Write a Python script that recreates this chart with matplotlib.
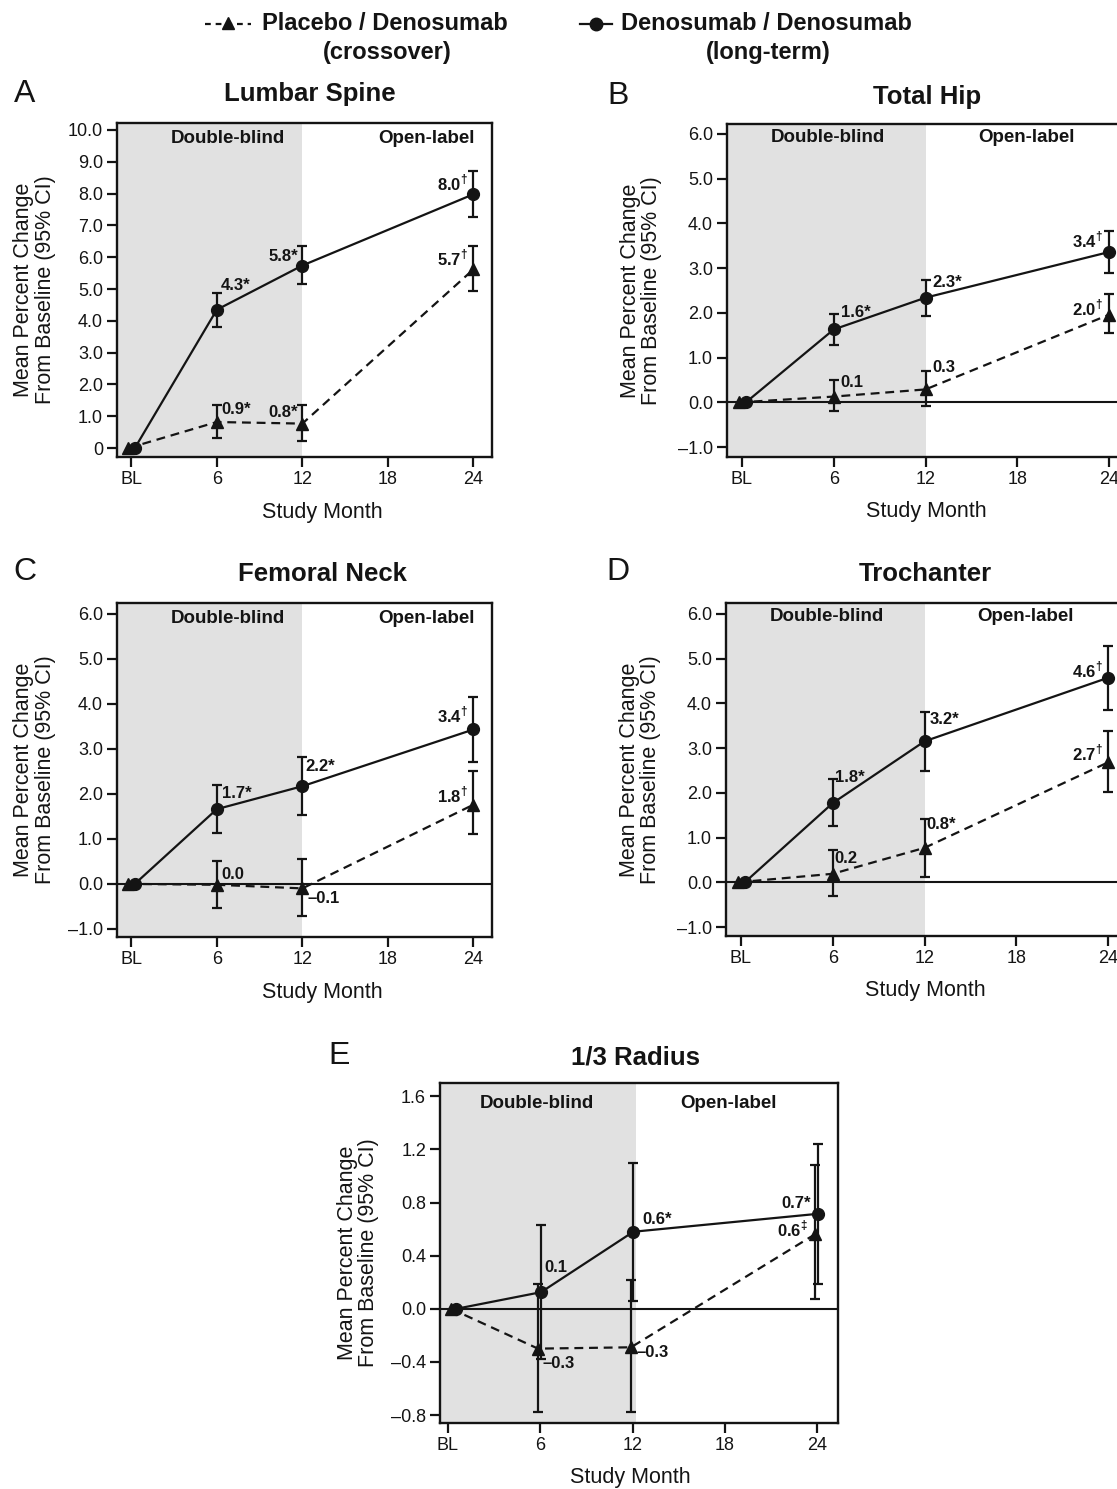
import numpy as np
import matplotlib
matplotlib.use("Agg")
import matplotlib.pyplot as plt
from matplotlib.lines import Line2D

plt.rcParams["font.family"] = ["Liberation Sans", "DejaVu Sans"]
plt.rcParams["mathtext.fontset"] = "custom"
plt.rcParams["mathtext.rm"] = "Liberation Sans:bold"
plt.rcParams["mathtext.bf"] = "Liberation Sans:bold"

# study months (BL = 0)
months = np.array([0, 6, 12, 24])
xtick_vals = [0, 6, 12, 18, 24]
xtick_labels = ["BL", "6", "12", "18", "24"]

# mean % change and 95% CI, placebo/denosumab (crossover)
spine_pl = np.array([0, 0.82, 0.77, 5.62])
spine_pl_lo = np.array([0, 0.32, 0.23, 4.93])
spine_pl_hi = np.array([0, 1.37, 1.37, 6.34])
# denosumab/denosumab (long-term)
spine_dm = np.array([0, 4.35, 5.74, 7.98])
spine_dm_lo = np.array([0, 3.81, 5.16, 7.25])
spine_dm_hi = np.array([0, 4.87, 6.34, 8.71])

hip_pl = np.array([0, 0.13, 0.29, 1.96])
hip_pl_lo = np.array([0, -0.19, -0.08, 1.56])
hip_pl_hi = np.array([0, 0.50, 0.71, 2.43])
hip_dm = np.array([0, 1.63, 2.34, 3.36])
hip_dm_lo = np.array([0, 1.28, 1.94, 2.90])
hip_dm_hi = np.array([0, 1.98, 2.74, 3.82])

neck_pl = np.array([0, -0.02, -0.10, 1.76])
neck_pl_lo = np.array([0, -0.54, -0.71, 1.10])
neck_pl_hi = np.array([0, 0.50, 0.55, 2.50])
neck_dm = np.array([0, 1.66, 2.17, 3.43])
neck_dm_lo = np.array([0, 1.13, 1.52, 2.70])
neck_dm_hi = np.array([0, 2.20, 2.81, 4.15])

troch_pl = np.array([0, 0.19, 0.77, 2.68])
troch_pl_lo = np.array([0, -0.30, 0.12, 2.02])
troch_pl_hi = np.array([0, 0.72, 1.42, 3.38])
troch_dm = np.array([0, 1.77, 3.15, 4.57])
troch_dm_lo = np.array([0, 1.25, 2.48, 3.86])
troch_dm_hi = np.array([0, 2.30, 3.81, 5.29])

radius_pl = np.array([0, -0.30, -0.29, 0.56])
radius_pl_lo = np.array([0, -0.78, -0.78, 0.075])
radius_pl_hi = np.array([0, 0.19, 0.22, 1.08])
radius_dm = np.array([0, 0.125, 0.58, 0.715])
radius_dm_lo = np.array([0, -0.38, 0.06, 0.19])
radius_dm_hi = np.array([0, 0.63, 1.10, 1.24])

# value labels at months 6, 12, 24
spine_pl_txt = ["0.9*", "0.8*", "5.7†"]
spine_dm_txt = ["4.3*", "5.8*", "8.0†"]
hip_pl_txt = ["0.1", "0.3", "2.0†"]
hip_dm_txt = ["1.6*", "2.3*", "3.4†"]
neck_pl_txt = ["0.0", "–0.1", "1.8†"]
neck_dm_txt = ["1.7*", "2.2*", "3.4†"]
troch_pl_txt = ["0.2", "0.8*", "2.7†"]
troch_dm_txt = ["1.8*", "3.2*", "4.6†"]
radius_pl_txt = ["–0.3", "–0.3", "0.6‡"]
radius_dm_txt = ["0.1", "0.6*", "0.7*"]

W, H = 1117, 1489
INK = "#141414"
SHADE = "#e1e1e1"

fig = plt.figure(figsize=(W / 100, H / 100), dpi=100)


def px_axes(l, t, r, b):
    return fig.add_axes([l / W, 1 - b / H, (r - l) / W, (b - t) / H])


def fmt_label(s):
    s = s.replace("†", r"$^{\dagger}$").replace("‡", r"$^{\ddagger}$")
    return s


def panel(ax, pl, pl_lo, pl_hi, dm, dm_lo, dm_hi, pl_txt, dm_txt, lay):
    ax.axvspan(-5, lay["shade_to"], color=SHADE, lw=0, zorder=0)
    if lay["zero_line"]:
        ax.axhline(0, color=INK, lw=1.5, zorder=1)

    xp = months + np.array(lay["jit_pl"])
    xd = months + np.array(lay["jit_dm"])
    ebkw = dict(fmt="none", ecolor=INK, elinewidth=1.6, capsize=3.8, capthick=1.6, zorder=3)
    ax.errorbar(xp[1:], pl[1:], yerr=[pl[1:] - pl_lo[1:], pl_hi[1:] - pl[1:]], **ebkw)
    ax.errorbar(xd[1:], dm[1:], yerr=[dm[1:] - dm_lo[1:], dm_hi[1:] - dm[1:]], **ebkw)
    ax.plot(xp, pl, color=INK, lw=1.6, dashes=(4, 2.6), marker="^", ms=8, zorder=4)
    ax.plot(xd, dm, color=INK, lw=1.6, marker="o", ms=8.5, zorder=4)

    for i in range(3):
        dx, dy, ha = lay["off_pl"][i]
        ax.annotate(fmt_label(pl_txt[i]), (xp[i + 1], pl[i + 1]), xytext=(dx, dy),
                    textcoords="offset pixels", ha=ha, va="center",
                    fontsize=12, fontweight="bold", color=INK, zorder=5)
        dx, dy, ha = lay["off_dm"][i]
        ax.annotate(fmt_label(dm_txt[i]), (xd[i + 1], dm[i + 1]), xytext=(dx, dy),
                    textcoords="offset pixels", ha=ha, va="center",
                    fontsize=12, fontweight="bold", color=INK, zorder=5)

    ax.set_xlim(lay["xlim"])
    ax.set_ylim(lay["ylim"])
    ax.set_xticks(xtick_vals)
    ax.set_xticklabels(xtick_labels)
    yt = lay["yticks"]
    ax.set_yticks(yt)
    ylab = [f"{v:.1f}".replace("-", "–") for v in yt]
    if lay.get("zero_as_int"):
        ylab = ["0" if abs(v) < 1e-9 else s for v, s in zip(yt, ylab)]
    ax.set_yticklabels(ylab)
    ax.tick_params(direction="out", length=7, width=1.6, labelsize=13, colors=INK, pad=3)
    for sp in ax.spines.values():
        sp.set_linewidth(1.7)
        sp.set_color(INK)

    ax.text(lay["db_x"], lay["lbl_y"], "Double-blind", transform=ax.transAxes,
            ha="center", va="center", fontsize=13.5, fontweight="bold", color=INK)
    ax.text(lay["ol_x"], lay["lbl_y"], "Open-label", transform=ax.transAxes,
            ha="center", va="center", fontsize=13.5, fontweight="bold", color=INK)

    ax.set_ylabel("Mean Percent Change\nFrom Baseline (95% CI)", fontsize=15.5,
                  color=INK, va="center", linespacing=1.05)
    ax.yaxis.set_label_coords(lay["ylab_x"], 0.5)
    ax.set_xlabel("Study Month", fontsize=15.5, color=INK, va="center")
    ax.xaxis.set_label_coords(lay["xlab_x"], lay["xlab_y"])
    ax.text(lay["title_x"], lay["title_y"], lay["title"], transform=ax.transAxes,
            ha="center", va="center", fontsize=18.5, fontweight="bold", color=INK)


L = "left"
R = "right"
jit = dict(jit_pl=[-0.2, 0, 0, 0], jit_dm=[0.25, 0, 0, 0])

ax_a = px_axes(117, 123, 492, 457)
panel(ax_a, spine_pl, spine_pl_lo, spine_pl_hi, spine_dm, spine_dm_lo, spine_dm_hi,
      spine_pl_txt, spine_dm_txt,
      dict(jit, shade_to=12, zero_line=False, xlim=(-1, 25.3), ylim=(-0.28, 10.22),
           yticks=list(range(0, 11)), zero_as_int=True,
           off_pl=[(5, 13, L), (-4, 11, R), (-5, 11, R)],
           off_dm=[(4, 24, L), (-4, 9, R), (-5, 11, R)],
           db_x=0.296, ol_x=0.824, lbl_y=0.955, ylab_x=-0.221,
           xlab_x=0.547, xlab_y=-0.165, title="Lumbar Spine", title_x=0.515, title_y=1.087))

ax_b = px_axes(727, 124, 1129, 457)
panel(ax_b, hip_pl, hip_pl_lo, hip_pl_hi, hip_dm, hip_dm_lo, hip_dm_hi,
      hip_pl_txt, hip_dm_txt,
      dict(jit, shade_to=12, zero_line=True, xlim=(-0.98, 25.3), ylim=(-1.22, 6.22),
           yticks=list(range(-1, 7)),
           off_pl=[(7, 14, L), (7, 22, L), (-6, 7, R)],
           off_dm=[(7, 17, L), (7, 15, L), (-6, 12, R)],
           db_x=0.251, ol_x=0.744, lbl_y=0.958, ylab_x=-0.214,
           xlab_x=0.497, xlab_y=-0.165, title="Total Hip", title_x=0.497, title_y=1.081))

ax_c = px_axes(117, 603, 492, 937)
panel(ax_c, neck_pl, neck_pl_lo, neck_pl_hi, neck_dm, neck_dm_lo, neck_dm_hi,
      neck_pl_txt, neck_dm_txt,
      dict(jit, shade_to=12, zero_line=True, xlim=(-1, 25.3), ylim=(-1.18, 6.24),
           yticks=list(range(-1, 7)),
           off_pl=[(5, 10, L), (5, -10, L), (-5, 10, R)],
           off_dm=[(5, 16, L), (3, 20, L), (-5, 14, R)],
           db_x=0.296, ol_x=0.824, lbl_y=0.955, ylab_x=-0.221,
           xlab_x=0.547, xlab_y=-0.165, title="Femoral Neck", title_x=0.549, title_y=1.087))

ax_d = px_axes(726, 603, 1128, 936)
panel(ax_d, troch_pl, troch_pl_lo, troch_pl_hi, troch_dm, troch_dm_lo, troch_dm_hi,
      troch_pl_txt, troch_dm_txt,
      dict(jit, shade_to=12, zero_line=True, xlim=(-0.98, 25.3), ylim=(-1.2, 6.24),
           yticks=list(range(-1, 7)),
           off_pl=[(2, 15, L), (2, 23, L), (-5, 9, R)],
           off_dm=[(2, 26, L), (5, 22, L), (-5, 8, R)],
           db_x=0.251, ol_x=0.744, lbl_y=0.958, ylab_x=-0.214,
           xlab_x=0.497, xlab_y=-0.165, title="Trochanter", title_x=0.495, title_y=1.087))

ax_e = px_axes(440, 1083, 838, 1423)
panel(ax_e, radius_pl, radius_pl_lo, radius_pl_hi, radius_dm, radius_dm_lo, radius_dm_hi,
      radius_pl_txt, radius_dm_txt,
      dict(jit_pl=[0.2, -0.15, -0.1, -0.15], jit_dm=[0.55, 0.05, 0.05, 0.05],
           shade_to=12.2, zero_line=True, xlim=(-0.52, 25.36), ylim=(-0.86, 1.70),
           yticks=[-0.8, -0.4, 0.0, 0.4, 0.8, 1.2, 1.6],
           off_pl=[(5, -15, L), (5, -5, L), (-7, 5, R)],
           off_dm=[(3, 25, L), (9, 12, L), (-7, 10, R)],
           db_x=0.244, ol_x=0.726, lbl_y=0.94, ylab_x=-0.206,
           xlab_x=0.477, xlab_y=-0.159, title="1/3 Radius", title_x=0.49, title_y=1.076))

# panel letters
for letter, x, y in [("A", 25, 94), ("B", 618, 96), ("C", 25, 572), ("D", 618, 572), ("E", 339, 1056)]:
    fig.text(x / W, 1 - y / H, letter, ha="center", va="center", fontsize=23, color=INK)

# legend drawn by hand to keep two-line centred labels
def fx(x):
    return x / W


def fy(y):
    return 1 - y / H


fig.add_artist(Line2D([fx(205), fx(251)], [fy(24), fy(24)], transform=fig.transFigure,
                      color=INK, lw=1.6, dashes=(2.6, 2.2)))
fig.add_artist(Line2D([fx(228)], [fy(23)], transform=fig.transFigure, color=INK,
                      marker="^", ms=9, lw=0))
fig.text(fx(262), fy(24), "Placebo / Denosumab", ha="left", va="center",
         fontsize=17, fontweight="bold", color=INK)
fig.text(fx(387), fy(52), "(crossover)", ha="center", va="center",
         fontsize=17, fontweight="bold", color=INK)

fig.add_artist(Line2D([fx(580), fx(612)], [fy(24), fy(24)], transform=fig.transFigure,
                      color=INK, lw=1.6))
fig.add_artist(Line2D([fx(596)], [fy(24)], transform=fig.transFigure, color=INK,
                      marker="o", ms=9, lw=0))
fig.text(fx(621), fy(24), "Denosumab / Denosumab", ha="left", va="center",
         fontsize=17, fontweight="bold", color=INK)
fig.text(fx(768), fy(52), "(long-term)", ha="center", va="center",
         fontsize=17, fontweight="bold", color=INK)

fig.savefig("out.png", dpi=100)
